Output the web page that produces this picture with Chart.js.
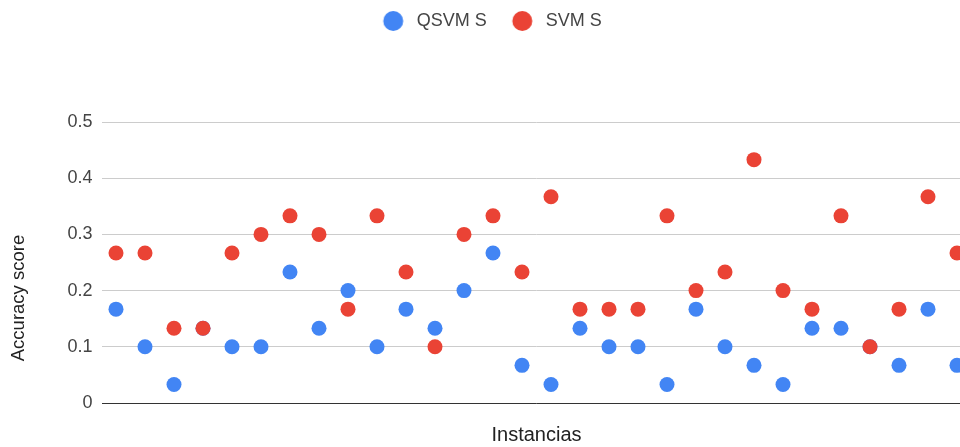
<!DOCTYPE html>
<html>
<head>
<meta charset="utf-8">
<script src="https://cdn.jsdelivr.net/npm/chart.js@4"></script>
<style>
  html, body { margin: 0; padding: 0; background: #fff; overflow: hidden; }
  #wrap { width: 980px; height: 447px; }
</style>
</head>
<body>
<div id="wrap"><canvas id="chart"></canvas></div>
<script>
const instancias = Array.from({ length: 30 }, (_, i) => String(i + 1));
const qsvmS = [0.167, 0.1, 0.033, 0.133, 0.1, 0.1, 0.233, 0.133, 0.2, 0.1,
  0.167, 0.133, 0.2, 0.267, 0.067, 0.033, 0.133, 0.1, 0.1, 0.033,
  0.167, 0.1, 0.067, 0.033, 0.133, 0.133, 0.1, 0.067, 0.167, 0.067];
const svmS = [0.267, 0.267, 0.133, 0.133, 0.267, 0.3, 0.333, 0.3, 0.167, 0.333,
  0.233, 0.1, 0.3, 0.333, 0.233, 0.367, 0.167, 0.167, 0.167, 0.333,
  0.2, 0.233, 0.433, 0.2, 0.167, 0.333, 0.1, 0.167, 0.367, 0.267];
const yTicks = [0, 0.1, 0.2, 0.3, 0.4, 0.5];

const font = "Arial, 'Liberation Sans', sans-serif";
const BLUE = "#4285f4";
const RED = "#ea4335";

// legend marker: circle sitting to the right of a transparent margin
function legendDot(color) {
  const c = document.createElement("canvas");
  c.width = 38;
  c.height = 22;
  const g = c.getContext("2d");
  g.fillStyle = color;
  g.beginPath();
  g.arc(23.5, 11, 10, 0, Math.PI * 2);
  g.fill();
  return c;
}

const yTitle = {
  id: "yTitle",
  afterDraw(chart) {
    const ctx = chart.ctx;
    ctx.save();
    ctx.translate(18.5, 298);
    ctx.rotate(-Math.PI / 2);
    ctx.font = `18.5px ${font}`;
    ctx.fillStyle = "#222";
    ctx.textAlign = "center";
    ctx.textBaseline = "middle";
    ctx.fillText("Accuracy score", 0, 0);
    ctx.restore();
  },
};

const legendGap = {
  id: "legendGap",
  beforeInit(chart) {
    const orig = chart.legend.fit;
    chart.legend.fit = function () { orig.call(this); this.height += 82; };
  },
};

new Chart(document.getElementById("chart"), {
  type: "line",
  data: {
    labels: instancias,
    datasets: [
      { label: "QSVM S", data: qsvmS, showLine: false, pointRadius: 7.5, pointBorderWidth: 0,
        backgroundColor: BLUE, borderColor: BLUE, order: 1 },
      { label: "SVM S", data: svmS, showLine: false, pointRadius: 7.5, pointBorderWidth: 0,
        backgroundColor: RED, borderColor: RED, order: 0 },
    ],
  },
  options: {
    responsive: true,
    maintainAspectRatio: false,
    animation: false,
    events: [],
    layout: { padding: { top: 0, right: 8.5, bottom: 0, left: 0 } },
    plugins: {
      tooltip: { enabled: false },
      legend: {
        position: "top",
        labels: {
          usePointStyle: true,
          pointStyleWidth: 38,
          boxHeight: 18,
          padding: 12,
          color: "#444",
          font: { family: font, size: 18 },
          generateLabels: (chart) => chart.data.datasets.map((ds, i) => ({
            text: ds.label,
            datasetIndex: i,
            fillStyle: ds.backgroundColor,
            strokeStyle: ds.backgroundColor,
            lineWidth: 0,
            hidden: false,
            fontColor: "#444",
            pointStyle: legendDot(ds.backgroundColor),
          })),
        },
      },
    },
    scales: {
      x: {
        type: "category",
        offset: true,
        grid: { display: false, drawTicks: false },
        border: { display: false },
        ticks: { display: false },
        title: { display: true, text: "Instancias", color: "#222", font: { family: font, size: 20 }, padding: { top: 20, bottom: 0 } },
      },
      y: {
        min: 0,
        max: 0.5,
        afterBuildTicks: (axis) => { axis.ticks = yTicks.map((v) => ({ value: v })); },
        afterFit: (axis) => { axis.width = 101.5; },
        grid: {
          drawTicks: false,
          color: (ctx) => (ctx.tick && ctx.tick.value === 0 ? "#333" : "#ccc"),
          lineWidth: 1,
        },
        border: { display: false },
        ticks: { padding: 9, color: "#444", font: { family: font, size: 18 } },
      },
    },
  },
  plugins: [legendGap, yTitle],
});
</script>
</body>
</html>
